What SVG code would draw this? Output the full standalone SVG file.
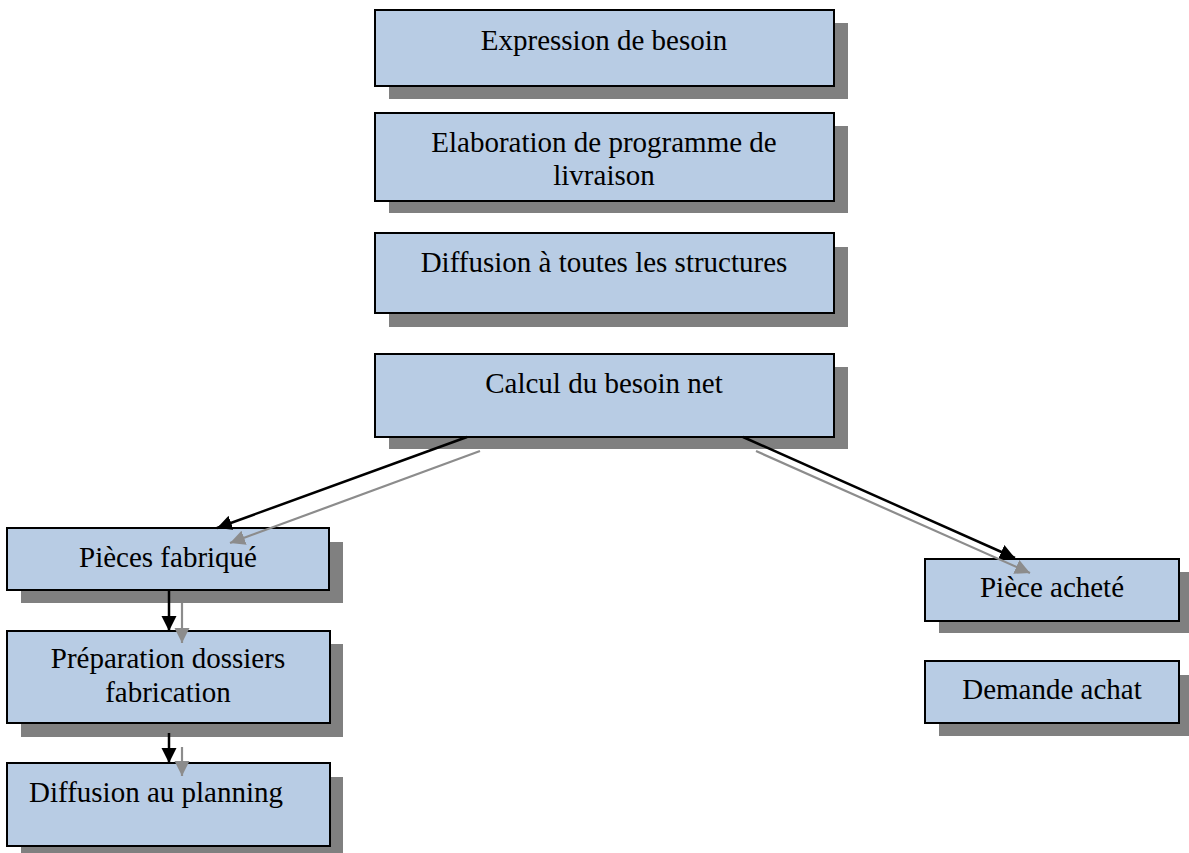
<svg xmlns="http://www.w3.org/2000/svg" width="1189" height="853" viewBox="0 0 1189 853">
  <style>
    .shadow { fill: #808080; }
    .box { fill: #B8CCE4; stroke: #000000; stroke-width: 2; }
    .label { font-family: "Liberation Serif", "Times New Roman", serif; font-size: 29px; fill: #000000; text-anchor: middle; }
    .left { text-anchor: start; }
    .flow-dark { stroke: #000000; stroke-width: 2.5; fill: none; marker-end: url(#head-dark); }
    .flow-grey { stroke: #8C8C8C; stroke-width: 2.2; fill: none; marker-end: url(#head-grey); }
  </style>
  <defs>
    <marker id="head-dark" markerUnits="userSpaceOnUse" markerWidth="16" markerHeight="16" viewBox="0 0 16 16" refX="15" refY="8" orient="auto">
      <path d="M0,0.5 L15,8 L0,15.5 z" fill="#000000"/>
    </marker>
    <marker id="head-grey" markerUnits="userSpaceOnUse" markerWidth="16" markerHeight="16" viewBox="0 0 16 16" refX="15" refY="8" orient="auto">
      <path d="M0,0.5 L15,8 L0,15.5 z" fill="#8C8C8C"/>
    </marker>
  </defs>

  <rect width="1189" height="853" fill="#FFFFFF"/>

  <g id="expression-besoin">
    <rect class="shadow" x="389" y="23" width="459" height="76"/>
    <rect class="box" x="375" y="10" width="459" height="76"/>
    <text class="label" x="604" y="50">Expression de besoin</text>
  </g>

  <g id="elaboration-programme">
    <rect class="shadow" x="389" y="126" width="459" height="87"/>
    <rect class="box" x="375" y="113" width="459" height="88"/>
    <text class="label" x="604" y="152">Elaboration de programme de</text>
    <text class="label" x="604" y="185">livraison</text>
  </g>

  <g id="diffusion-structures">
    <rect class="shadow" x="389" y="247" width="459" height="80"/>
    <rect class="box" x="375" y="233" width="459" height="80"/>
    <text class="label" x="604" y="272">Diffusion à toutes les structures</text>
  </g>

  <g id="calcul-besoin-net">
    <rect class="shadow" x="389" y="367" width="459" height="82"/>
    <rect class="box" x="375" y="354" width="459" height="83"/>
    <text class="label" x="604" y="393">Calcul du besoin net</text>
  </g>

  <g id="pieces-fabrique">
    <rect class="shadow" x="21" y="542" width="322" height="61"/>
    <rect class="box" x="7" y="528" width="322" height="62"/>
    <text class="label" x="168" y="567">Pièces fabriqué</text>
  </g>

  <g id="preparation-dossiers">
    <rect class="shadow" x="21" y="644" width="322" height="93"/>
    <rect class="box" x="7" y="631" width="323" height="92"/>
    <text class="label" x="168" y="668">Préparation dossiers</text>
    <text class="label" x="168" y="702">fabrication</text>
  </g>

  <g id="diffusion-planning">
    <rect class="shadow" x="21" y="777" width="322" height="82"/>
    <rect class="box" x="7" y="763" width="323" height="83"/>
    <text class="label left" x="29" y="802">Diffusion au planning</text>
  </g>

  <g id="piece-achete">
    <rect class="shadow" x="939" y="572" width="254" height="61"/>
    <rect class="box" x="925" y="559" width="254" height="62"/>
    <text class="label" x="1052" y="597">Pièce acheté</text>
  </g>

  <g id="demande-achat">
    <rect class="shadow" x="939" y="675" width="254" height="61"/>
    <rect class="box" x="925" y="661" width="254" height="62"/>
    <text class="label" x="1052" y="699">Demande achat</text>
  </g>

  <g id="connectors">
    <line class="flow-dark" x1="467" y1="437" x2="217" y2="528"/>
    <line class="flow-grey" x1="480" y1="451" x2="230" y2="543"/>
    <line class="flow-dark" x1="743" y1="437" x2="1015" y2="558"/>
    <line class="flow-grey" x1="756" y1="451" x2="1030" y2="573"/>
    <line class="flow-dark" x1="169" y1="590" x2="169" y2="631"/>
    <line class="flow-grey" x1="182" y1="603" x2="182" y2="643"/>
    <line class="flow-dark" x1="169" y1="733" x2="169" y2="763"/>
    <line class="flow-grey" x1="182" y1="747" x2="182" y2="776"/>
  </g>
</svg>
